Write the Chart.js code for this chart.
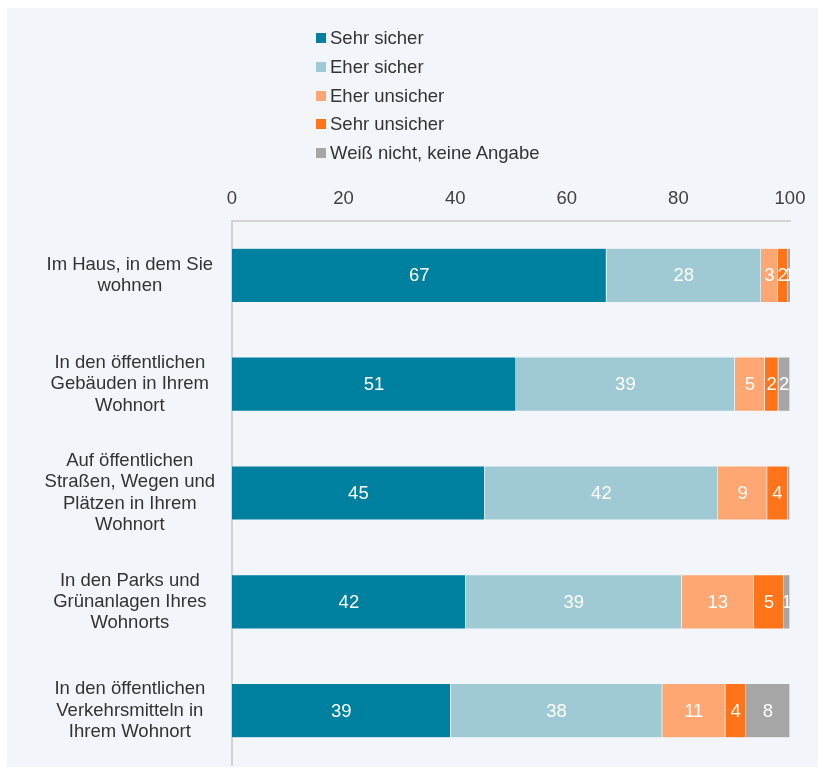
<!DOCTYPE html>
<html lang="de">
<head>
<meta charset="UTF-8">
<title>Sicherheitsgefühl</title>
<style>
    body { margin: 0; background: #ffffff; font-family: 'Liberation Sans', Arial, sans-serif; }
    #panel { position: absolute; left: 7px; top: 8px; width: 811px; height: 759px; background: #f2f5f9; }
    #wrap { position: absolute; left: 0; top: 0; width: 818px; height: 768px; }
    #legend { position: absolute; left: 316px; top: 24px; color: #333; font-size: 18.5px; }
    #legend div { height: 28.7px; display: flex; align-items: center; }
    #legend span.box { display: inline-block; width: 10px; height: 10px; margin-right: 4px; }
</style>
<script src="https://cdn.jsdelivr.net/npm/chart.js@4"></script>
</head>
<body>
<div id="panel"></div>
<div id="wrap"><canvas id="chart" width="818" height="768"></canvas></div>
<div id="legend"></div>
<script>
const categories = [
    ['Im Haus, in dem Sie', 'wohnen'],
    ['In den öffentlichen', 'Gebäuden in Ihrem', 'Wohnort'],
    ['Auf öffentlichen', 'Straßen, Wegen und', 'Plätzen in Ihrem', 'Wohnort'],
    ['In den Parks und', 'Grünanlagen Ihres', 'Wohnorts'],
    ['In den öffentlichen', 'Verkehrsmitteln in', 'Ihrem Wohnort']
];
const seriesNames = ['Sehr sicher', 'Eher sicher', 'Eher unsicher', 'Sehr unsicher', 'Weiß nicht, keine Angabe'];
const sehrSicher = [67.1, 50.9, 45.3, 41.9, 39.2];
const eherSicher = [27.7, 39.2, 41.8, 38.7, 37.9];
const eherUnsicher = [3.0, 5.4, 8.8, 12.9, 11.3];
const sehrUnsicher = [1.8, 2.4, 3.7, 5.4, 3.7];
const weissNicht = [0.6, 2.1, 0.4, 1.1, 7.9];
const xTicks = [0, 20, 40, 60, 80, 100];

const colors = ['#00809f', '#9fcad4', '#ffa773', '#ff7419', '#a6a6a6'];
const values = [sehrSicher, eherSicher, eherUnsicher, sehrUnsicher, weissNicht];
const FONT = '"Liberation Sans", Arial, sans-serif';

// legend (one per row)
const legend = document.getElementById('legend');
seriesNames.forEach((name, i) => {
    const row = document.createElement('div');
    row.innerHTML = '<span class="box" style="background:' + colors[i] + '"></span>' + name;
    legend.appendChild(row);
});

// white numbers inside the bar segments
const barLabels = {
    id: 'barLabels',
    afterDatasetsDraw(chart) {
        const ctx = chart.ctx;
        const area = chart.chartArea;
        ctx.save();
        ctx.beginPath();
        ctx.rect(area.left, area.top, area.right - area.left, area.bottom - area.top);
        ctx.clip();
        ctx.fillStyle = '#ffffff';
        ctx.font = '18.5px ' + FONT;
        ctx.textAlign = 'center';
        ctx.textBaseline = 'middle';
        chart.data.datasets.forEach((ds, di) => {
            chart.getDatasetMeta(di).data.forEach((el, i) => {
                const v = Math.round(ds.data[i]);
                if (v < 1) return;
                ctx.fillText(String(v), (el.x + el.base) / 2, el.y + 1);
            });
        });
        ctx.restore();
    }
};

new Chart(document.getElementById('chart'), {
    type: 'bar',
    data: {
        labels: categories,
        datasets: seriesNames.map((name, i) => ({
            label: name,
            data: values[i],
            backgroundColor: colors[i],
            borderColor: 'rgba(255,255,255,0.5)',
            borderWidth: 0.6,
            barPercentage: 0.5,
            categoryPercentage: 1
        }))
    },
    options: {
        indexAxis: 'y',
        responsive: false,
        animation: false,
        layout: { padding: { top: 181, right: 28, bottom: 3, left: 20 } },
        plugins: {
            legend: { display: false },
            tooltip: { enabled: false }
        },
        scales: {
            x: {
                position: 'top',
                stacked: true,
                min: 0,
                max: 100,
                afterBuildTicks: s => { s.ticks = xTicks.map(v => ({ value: v })); },
                afterFit: s => { s.height = 40; s.paddingLeft = 0; s.paddingRight = 0; },
                grid: { display: false, drawTicks: false },
                border: { display: true, color: '#d4d4d4', width: 2 },
                ticks: { color: '#404040', padding: 11, font: { size: 18.5, family: FONT } }
            },
            y: {
                stacked: true,
                afterFit: s => { s.width = 212; s.paddingTop = 0; s.paddingBottom = 0; },
                grid: { display: false, drawTicks: false },
                border: { display: true, color: '#d4d4d4', width: 2 },
                ticks: {
                    color: '#333333',
                    padding: 17,
                    crossAlign: 'center',
                    font: { size: 18.5, family: FONT, lineHeight: 1.15 }
                }
            }
        }
    },
    plugins: [barLabels]
});
</script>
</body>
</html>
